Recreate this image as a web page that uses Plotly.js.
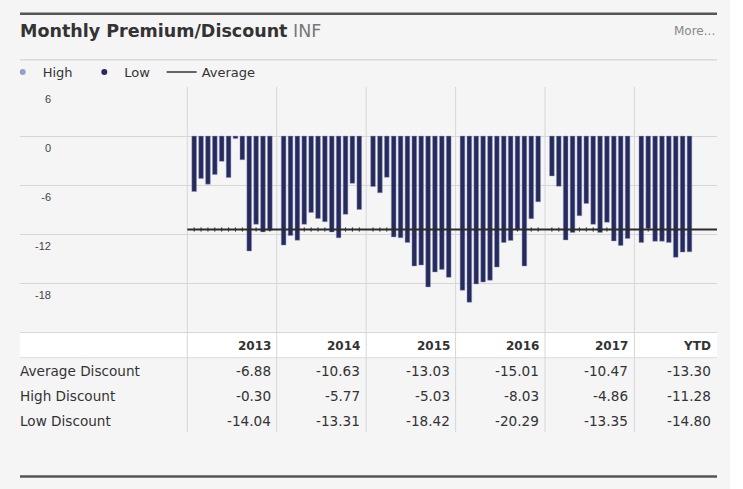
<!DOCTYPE html>
<html>
<head>
<meta charset="utf-8">
<script src="https://cdn.plot.ly/plotly-3.0.1.min.js"></script>
<style>
  html, body { margin: 0; padding: 0; background: #f5f5f5; }
  #chart { width: 743px; height: 489px; }
</style>
</head>
<body>
<div id="chart"></div>
<script>
// ---- Data ----
const groupLabels = ['2013', '2014', '2015', '2016', '2017', 'YTD'];

const monthly2013 = [-6.77, -5.19, -5.87, -4.70, -3.08, -5.07, -0.30, -2.88, -14.04, -10.77, -11.70, -11.54];
const monthly2014 = [-13.31, -12.15, -12.72, -10.77, -9.32, -10.05, -10.45, -11.71, -12.43, -9.56, -5.77, -8.95];
const monthly2015 = [-6.16, -6.92, -5.03, -12.31, -12.43, -13.00, -15.87, -15.75, -18.42, -16.60, -16.28, -17.25];
const monthly2016 = [-18.83, -20.29, -18.06, -17.82, -17.61, -16.00, -13.00, -12.75, -11.46, -15.87, -10.08, -8.03];
const monthly2017 = [-4.86, -6.12, -12.68, -11.78, -9.72, -8.22, -10.77, -11.78, -10.53, -12.80, -13.35, -12.51];
const monthlyYTD  = [-13.00, -11.28, -12.84, -12.84, -13.00, -14.80, -14.17, -14.14];

const overallAverage = -11.41;

const averageDiscount = [-6.88, -10.63, -13.03, -15.01, -10.47, -13.30];
const highDiscount    = [-0.30, -5.77, -5.03, -8.03, -4.86, -11.28];
const lowDiscount     = [-14.04, -13.31, -18.42, -20.29, -13.35, -14.80];
const rowLabels = ['Average Discount', 'High Discount', 'Low Discount'];

const legendNames = ['High', 'Low', 'Average'];

const yTickVals = [6, 0, -6, -12, -18, -24];
const yTickText = ['6', '0', '-6', '-12', '-18', ''];

// ---- Build positions (12 month slots + 1 separator slot per group) ----
const groups = [monthly2013, monthly2014, monthly2015, monthly2016, monthly2017, monthlyYTD];
const SLOT = 13;
const barX = [], barY = [];
groups.forEach((vals, g) => {
  vals.forEach((v, i) => { barX.push(g * SLOT + 1 + i); barY.push(v); });
});
const boundaries = groups.map((_, g) => g * SLOT);
const xEnd = groups.length * SLOT - 1;
const columnRight = groups.map((_, g) => Math.min((g + 1) * SLOT, xEnd));

// geometry helpers (paper: x 12..717 px, y 85..432 px)
const PX0 = 12, PX1 = 717, PY0 = 85, PY1 = 432;
const px = x => (x - PX0) / (PX1 - PX0);
const py = y => (PY1 - y) / (PY1 - PY0);

const chartBottom = 332;
const headerMid = 345.7, rowStep = 25;
const navy = '#262a5c';
const grid = '#d6d6d6';
const clear = 'rgba(0,0,0,0)';
const spacer = '\u00a0\u2009';

const traces = [
  {
    type: 'bar', x: barX, y: barY, width: 0.68,
    marker: { color: navy, line: { color: 'rgba(140,150,195,0.75)', width: 0.6 } },
    showlegend: false, hoverinfo: 'skip'
  },
  {
    type: 'scatter', mode: 'lines', x: [0, xEnd], y: [overallAverage, overallAverage],
    line: { color: '#2b2b2b', width: 1.8 }, showlegend: false, hoverinfo: 'skip'
  },
  {
    type: 'scatter', mode: 'markers', x: barX, y: barX.map(() => overallAverage),
    marker: { symbol: 'line-ns-open', size: 3, color: '#2b2b2b', line: { color: '#2b2b2b', width: 1 } },
    showlegend: false, hoverinfo: 'skip'
  },
  // legend entries
  { type: 'scatter', mode: 'markers', x: [null], y: [null], name: legendNames[0] + spacer,
    marker: { symbol: 'circle', size: 6, color: '#8fa3c9' } },
  { type: 'scatter', mode: 'markers', x: [null], y: [null], name: legendNames[1] + spacer,
    marker: { symbol: 'circle', size: 6, color: navy } },
  { type: 'scatter', mode: 'lines', x: [null], y: [null], name: legendNames[2],
    line: { color: '#333', width: 1.5 } }
];

// ---- summary table (as text annotations aligned to the column grid) ----
const cellFont = { family: 'DejaVu Sans', size: 13.6, color: '#333' };
const annotations = [
  { text: 'More...', xref: 'paper', yref: 'paper', x: 1, y: py(29), xanchor: 'right', yanchor: 'middle',
    showarrow: false, font: { family: 'DejaVu Sans', size: 12, color: '#888' } }
];
groupLabels.forEach((label, j) => {
  annotations.push({
    text: '<b>' + label + '</b>', xref: 'x', yref: 'paper', x: columnRight[j], y: py(headerMid),
    xanchor: 'right', yanchor: 'middle', xshift: -6, showarrow: false, borderpad: 0, borderwidth: 0,
    font: { family: 'DejaVu Sans', size: 12, color: '#333' }
  });
});
const tableRows = [averageDiscount, highDiscount, lowDiscount];
tableRows.forEach((row, i) => {
  const yMid = py(headerMid + rowStep * (i + 1));
  annotations.push({
    text: rowLabels[i], xref: 'paper', yref: 'paper', x: px(20), y: yMid,
    xanchor: 'left', yanchor: 'middle', showarrow: false, borderpad: 0, borderwidth: 0, font: cellFont
  });
  row.forEach((v, j) => {
    annotations.push({
      text: v.toFixed(2), xref: 'x', yref: 'paper', x: columnRight[j], y: yMid,
      xanchor: 'right', yanchor: 'middle', xshift: -6, showarrow: false, borderpad: 0, borderwidth: 0,
      font: cellFont
    });
  });
});

const shapes = [
  // header row background
  { type: 'rect', xref: 'paper', yref: 'paper', x0: px(20), x1: 1, y0: py(357.3), y1: py(chartBottom),
    fillcolor: '#ffffff', line: { width: 0 }, layer: 'below' },
  // header bottom border
  { type: 'line', xref: 'paper', yref: 'paper', x0: px(20), x1: 1, y0: py(357.3), y1: py(357.3),
    line: { color: '#dcdcdc', width: 1 }, layer: 'below' },
  // chart bottom / header top border
  { type: 'line', xref: 'paper', yref: 'paper', x0: px(20), x1: 1, y0: py(chartBottom), y1: py(chartBottom),
    line: { color: grid, width: 1 } },
  // title separator
  { type: 'line', xref: 'paper', yref: 'paper', x0: px(20), x1: 1, y0: py(57.5), y1: py(57.5),
    line: { color: '#dadada', width: 1.5 } },
  // top dark rule
  { type: 'line', xref: 'paper', yref: 'paper', x0: px(20), x1: 1, y0: py(11.2), y1: py(11.2),
    line: { color: '#555', width: 2.5 } },
  // bottom dark rule
  { type: 'line', xref: 'paper', yref: 'paper', x0: px(20), x1: 1, y0: py(476.8), y1: py(476.8),
    line: { color: '#555', width: 2.5 } },
  // white strip at right edge
  { type: 'rect', xref: 'paper', yref: 'paper', x0: px(730), x1: px(760), y0: py(520), y1: py(-30),
    fillcolor: '#ffffff', line: { width: 0 } }
].concat(boundaries.map(b => ({
  type: 'line', xref: 'x', yref: 'paper', x0: b, x1: b, y0: 0, y1: 1,
  line: { color: grid, width: 1 }, layer: 'below'
})));

const layout = {
  width: 743, height: 489,
  paper_bgcolor: '#f5f5f5', plot_bgcolor: '#f5f5f5',
  font: { family: 'DejaVu Sans', color: '#333' },
  margin: { l: PX0, r: 743 - PX1, t: PY0, b: 489 - PY1, pad: 0 },
  title: {
    text: "<b>Monthly Premium/Discount</b> <span style='color:#777'>INF</span>",
    font: { family: 'DejaVu Sans', size: 17.5, color: '#333' },
    xref: 'container', yref: 'container', x: 20 / 743, xanchor: 'left',
    y: 1 - 31 / 489, yanchor: 'middle'
  },
  showlegend: true,
  legend: {
    orientation: 'h', xref: 'container', yref: 'container',
    x: 2.7 / 743, xanchor: 'left', y: 1 - 72 / 489, yanchor: 'middle',
    font: { family: 'DejaVu Sans', size: 13, color: '#333' },
    bgcolor: clear, itemwidth: 30, traceorder: 'normal'
  },
  xaxis: {
    domain: [px(20), 1], range: [-24.32, xEnd],
    showgrid: false, zeroline: false, showline: false, showticklabels: false, ticks: '',
    fixedrange: true
  },
  yaxis: {
    domain: [py(chartBottom), 1], range: [-24, 6],
    tickvals: yTickVals, ticktext: yTickText,
    showgrid: true, gridcolor: grid, gridwidth: 1,
    zeroline: false, showline: false, ticks: '',
    anchor: 'free', position: px(51),
    ticklabelshift: 12,
    tickfont: { family: 'Liberation Sans, Arial', size: 11, color: '#444' },
    fixedrange: true
  },
  annotations: annotations,
  shapes: shapes,
  bargap: 0
};

Plotly.newPlot('chart', traces, layout, { displayModeBar: false, staticPlot: true });
</script>
</body>
</html>
